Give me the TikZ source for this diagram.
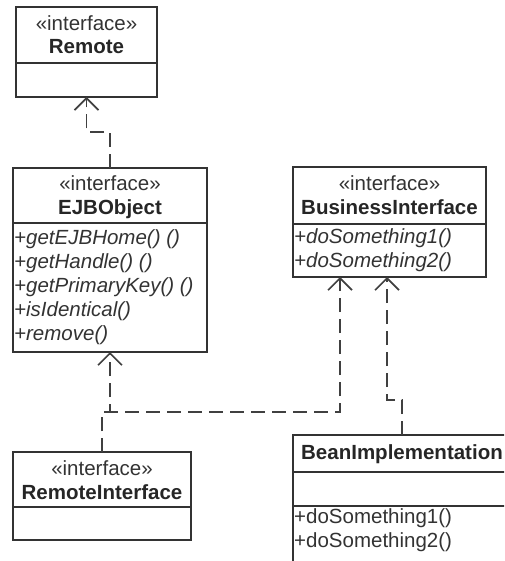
\documentclass[tikz,border=0pt]{standalone}
\usepackage{fontspec}
\setmainfont{Liberation Sans}
\usetikzlibrary{arrows.meta}
\tikzset{
  umlbox/.style={draw=black!80, line width=1.5pt, rectangle, inner sep=0pt, outer sep=0pt, anchor=north west},
  stereo/.style={font=\fontsize{20.5}{24}\selectfont, anchor=base, inner sep=0pt, text=black!80},
  cname/.style={font=\fontsize{20.5}{24}\selectfont\bfseries, anchor=base, inner sep=0pt, text=black!85},
  oper/.style={font=\fontsize{20.5}{24}\selectfont\itshape, anchor=base west, inner sep=0pt, text=black!80},
  operup/.style={font=\fontsize{20.5}{24}\selectfont, anchor=base west, inner sep=0pt, text=black!80},
  divider/.style={draw=black!80, line width=1.5pt},
  dep/.style={draw=black!75, line width=1.6pt, dash pattern=on 14pt off 7pt,
    -{Straight Barb[length=12pt,width=24pt]}}
}
\begin{document}
\begin{tikzpicture}[x=1pt,y=1pt]
\useasboundingbox (0,0) rectangle (504,-561);
\clip (0,0) rectangle (504,-561);
\fill[white] (0,0) rectangle (504,-561);

% Remote
\node[umlbox, minimum width=141pt, minimum height=90pt] (remote) at (16,-7) {};
\draw[divider] (remote.west |- 0,-63) -- (remote.east |- 0,-63);
\node[stereo] (remoteS) at (86.5,-30.5) {«interface»};
\node[cname] (remoteN) at (86.5,-54) {Remote};

% EJBObject
\node[umlbox, minimum width=194pt, minimum height=184pt] (ejb) at (13,-168) {};
\draw[divider] (ejb.west |- 0,-223) -- (ejb.east |- 0,-223);
\node[stereo] (ejbS) at (110,-191) {«interface»};
\node[cname] (ejbN) at (110,-214) {EJBObject};
\node[oper] (ejbM1) at (14,-244) {+getEJBHome() ()};
\node[oper] (ejbM2) at (14,-268) {+getHandle() ()};
\node[oper] (ejbM3) at (14,-292) {+getPrimaryKey() ()};
\node[oper] (ejbM4) at (14,-316) {+isIdentical()};
\node[oper] (ejbM5) at (14,-340) {+remove()};

% BusinessInterface
\node[umlbox, minimum width=193pt, minimum height=110pt] (bi) at (293,-167) {};
\draw[divider] (bi.west |- 0,-224) -- (bi.east |- 0,-224);
\node[stereo] (biS) at (389.5,-190.5) {«interface»};
\node[cname] (biN) at (389.5,-214) {BusinessInterface};
\node[oper] (biM1) at (294,-243) {+doSomething1()};
\node[oper] (biM2) at (294,-267) {+doSomething2()};

% RemoteInterface
\node[umlbox, minimum width=178pt, minimum height=88pt] (ri) at (13,-452) {};
\draw[divider] (ri.west |- 0,-507) -- (ri.east |- 0,-507);
\node[stereo] (riS) at (102,-475.5) {«interface»};
\node[cname] (riN) at (102,-499) {RemoteInterface};

% BeanImplementation
\node[umlbox, minimum width=218pt, minimum height=131pt] (bean) at (293,-435) {};
\draw[divider] (bean.west |- 0,-472) -- (bean.east |- 0,-472);
\draw[divider] (bean.west |- 0,-506) -- (bean.east |- 0,-506);
\node[cname] (beanN) at (402,-459) {BeanImplementation};
\node[operup] (beanM1) at (294,-523) {+doSomething1()};
\node[operup] (beanM2) at (294,-547) {+doSomething2()};

% connectors
\coordinate (bi1) at ([xshift=-49.5pt]bi.south);
\coordinate (bi2) at ([xshift=-2.5pt]bi.south);
\draw[dep] (ejb.north) -- ++(0,36) -| (remote.south);
\draw[dep] (ri.north) -- ++(0,40) -| (ejb.south);
\draw[dep] (ri.north) -- ++(0,40) -| (bi1);
\draw[dep] (bean.north) -- ++(0,35) -| (bi2);
\end{tikzpicture}
\end{document}
